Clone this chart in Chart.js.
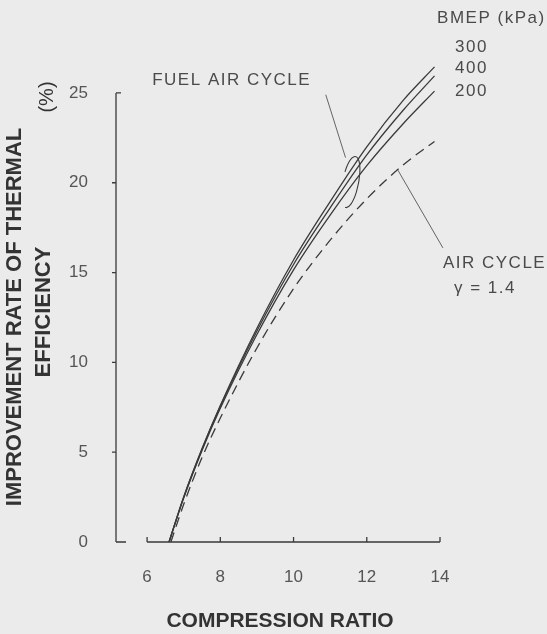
<!DOCTYPE html>
<html>
<head>
<meta charset="utf-8">
<script src="https://cdn.jsdelivr.net/npm/chart.js@4.4.1/dist/chart.umd.min.js"></script>
<style>
  html, body { margin: 0; padding: 0; background: #ebebeb; }
  #wrap { width: 547px; height: 634px; }
</style>
</head>
<body>
<div id="wrap"><canvas id="chart" width="547" height="634"></canvas></div>
<script>
// Compression ratio (x) where the curves were read
const ratio = [6.6, 7, 7.5, 8, 9, 10, 11, 12, 13, 13.85];
const airRatio = [6.65, 7, 7.5, 8, 9, 10, 11, 12, 13, 13.85];

// Improvement rate of thermal efficiency (%), fuel air cycle by BMEP
const bmep300 = [0, 2.5, 5.2, 7.6, 11.9, 15.7, 18.95, 22.0, 24.6, 26.45];
const bmep400 = [0, 2.5, 5.15, 7.55, 11.75, 15.45, 18.6, 21.55, 24.05, 25.95];
const bmep200 = [0, 2.45, 5.1, 7.45, 11.55, 15.15, 18.2, 20.95, 23.3, 25.1];

// Air cycle, gamma = 1.4
const airCycle = [0, 2.1, 4.7, 6.9, 10.8, 14.1, 16.8, 19.1, 21.0, 22.3];

const xTicks = [6, 8, 10, 12, 14];
const yTicks = [0, 5, 10, 15, 20, 25];

const ink = '#3a3a3a';
const textInk = '#4a4a4a';
const family = '"Liberation Sans", Arial, sans-serif';

const toPoints = (xs, ys) => xs.map((v, i) => ({ x: v, y: ys[i] }));

// Notes placed in data units
const notes = [
  { text: 'BMEP (kPa)', x: 13.92, y: 29.18, align: 'left' },
  { text: '300', x: 14.41, y: 27.56, align: 'left' },
  { text: '400', x: 14.41, y: 26.39, align: 'left' },
  { text: '200', x: 14.41, y: 25.11, align: 'left' },
  { text: 'FUEL AIR CYCLE', x: 6.14, y: 25.72, align: 'left' },
  { text: 'AIR CYCLE', x: 14.08, y: 15.53, align: 'left' },
  { text: 'γ = 1.4', x: 14.38, y: 14.14, align: 'left' }
];

const axesAndNotes = {
  id: 'axesAndNotes',
  afterDraw(chart) {
    const { ctx, chartArea } = chart;
    const x = chart.scales.x;
    const y = chart.scales.y;
    const X = v => x.getPixelForValue(v);
    const Y = v => y.getPixelForValue(v);

    ctx.save();
    ctx.strokeStyle = ink;
    ctx.lineWidth = 1.3;

    // y axis, 0 to 25
    const ax = chartArea.left;
    ctx.beginPath();
    ctx.moveTo(ax, Y(25));
    ctx.lineTo(ax, Y(0));
    yTicks.forEach(v => {
      if (v === 25) { ctx.moveTo(ax, Y(v)); ctx.lineTo(ax + 5, Y(v)); }
      else if (v === 0) { ctx.moveTo(ax, Y(v)); ctx.lineTo(ax + 10, Y(v)); }
      else { ctx.moveTo(ax - 4, Y(v)); ctx.lineTo(ax, Y(v)); }
    });
    // x axis, 6 to 14
    ctx.moveTo(X(6), Y(0));
    ctx.lineTo(X(14), Y(0));
    xTicks.forEach(v => {
      ctx.moveTo(X(v), Y(0));
      ctx.lineTo(X(v), Y(0) - 5);
    });
    ctx.stroke();

    // leader lines
    ctx.lineWidth = 0.9;
    ctx.strokeStyle = '#555';
    ctx.beginPath();
    ctx.moveTo(X(10.88), Y(24.9));
    ctx.lineTo(X(11.42), Y(21.4));
    ctx.moveTo(X(12.85), Y(20.7));
    ctx.lineTo(X(14.08), Y(16.37));
    ctx.stroke();

    // loop round the fuel air cycle curves
    ctx.lineWidth = 1.1;
    ctx.strokeStyle = ink;
    ctx.beginPath();
    ctx.ellipse(X(11.56), Y(20.04), 8, 26, 0.19, 200 * Math.PI / 180, 455 * Math.PI / 180);
    ctx.stroke();

    // notes
    ctx.fillStyle = textInk;
    ctx.font = '17px ' + family;
    ctx.textBaseline = 'middle';
    if ('letterSpacing' in ctx) ctx.letterSpacing = '1.5px';
    notes.forEach(n => {
      ctx.textAlign = n.align;
      ctx.fillText(n.text, X(n.x), Y(n.y));
    });

    // axis titles
    if ('letterSpacing' in ctx) ctx.letterSpacing = '0px';
    ctx.fillStyle = '#333';
    ctx.font = 'bold 21px ' + family;
    ctx.textAlign = 'center';
    ctx.fillText('COMPRESSION RATIO', 280, 621);

    ctx.font = 'bold 22px ' + family;
    ctx.save();
    ctx.translate(15, 317);
    ctx.rotate(-Math.PI / 2);
    ctx.fillText('IMPROVEMENT RATE OF THERMAL', 0, 0);
    ctx.restore();

    ctx.save();
    ctx.translate(44, 312);
    ctx.rotate(-Math.PI / 2);
    ctx.fillText('EFFICIENCY', 0, 0);
    ctx.restore();

    ctx.save();
    ctx.translate(47, 97);
    ctx.rotate(-Math.PI / 2);
    ctx.font = '20px ' + family;
    ctx.fillText('(%)', 0, 0);
    ctx.restore();

    ctx.restore();
  }
};

const solid = (label, data) => ({
  label: label,
  data: toPoints(ratio, data),
  borderColor: ink,
  borderWidth: 1.3,
  pointRadius: 0,
  cubicInterpolationMode: 'monotone',
  fill: false
});

new Chart(document.getElementById('chart'), {
  type: 'line',
  data: {
    datasets: [
      solid('300', bmep300),
      solid('400', bmep400),
      solid('200', bmep200),
      {
        label: 'AIR CYCLE',
        data: toPoints(airRatio, airCycle),
        borderColor: ink,
        borderWidth: 1.3,
        borderDash: [10, 6],
        pointRadius: 0,
        cubicInterpolationMode: 'monotone',
        fill: false
      }
    ]
  },
  options: {
    responsive: false,
    animation: false,
    devicePixelRatio: 1,
    layout: { padding: { top: 48, right: 107, left: 0, bottom: 0 } },
    plugins: {
      legend: { display: false },
      tooltip: { enabled: false }
    },
    scales: {
      x: {
        type: 'linear',
        min: 5.151,
        max: 14,
        grid: { display: false },
        border: { display: false },
        ticks: { color: '#555', font: { size: 17, family: family }, padding: 17 },
        afterBuildTicks: s => { s.ticks = xTicks.map(v => ({ value: v })); },
        afterFit: s => { s.height = 92; }
      },
      y: {
        type: 'linear',
        min: 0,
        max: 27.5,
        grid: { display: false },
        border: { display: false },
        ticks: { color: '#555', font: { size: 17, family: family }, padding: 20 },
        afterBuildTicks: s => { s.ticks = yTicks.map(v => ({ value: v })); },
        afterFit: s => { s.width = 116; }
      }
    }
  },
  plugins: [axesAndNotes]
});
</script>
</body>
</html>
